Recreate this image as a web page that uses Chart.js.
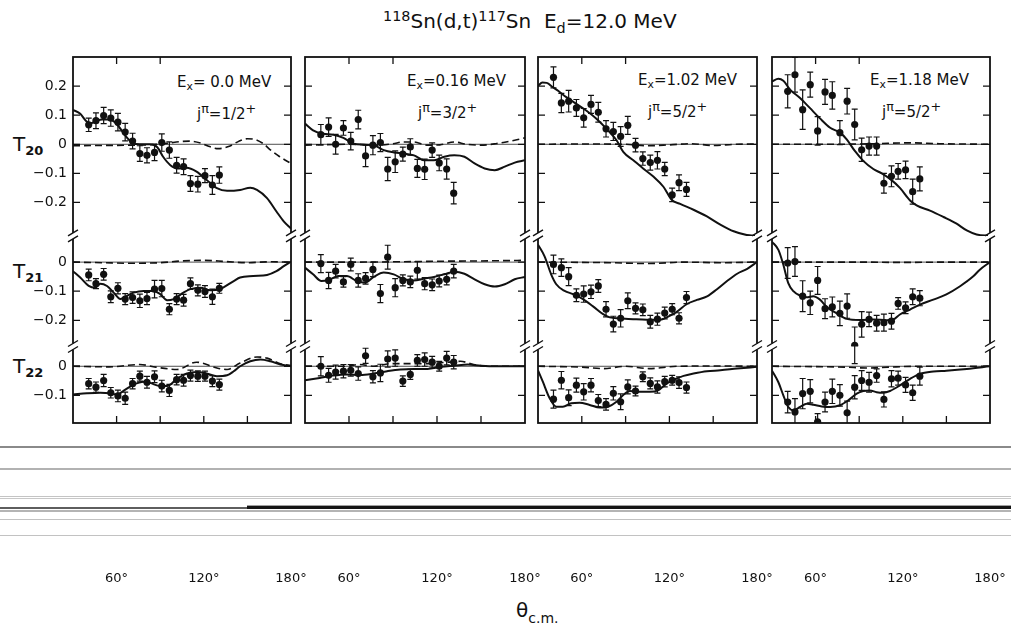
<!DOCTYPE html>
<html><head><meta charset="utf-8">
<script src="https://cdn.jsdelivr.net/npm/chart.js"></script>
<style>
html,body{margin:0;padding:0;background:#fff;}
body{width:1011px;height:627px;position:relative;overflow:hidden;font-family:"DejaVu Sans",sans-serif;color:#111;}
.t{position:absolute;white-space:nowrap;}
.t sub,.t sup{font-size:0.72em;line-height:0;}
.t sub{vertical-align:-0.32em;}
.t sup{vertical-align:0.5em;}
.ann{font-size:15px;line-height:15px;}
.ann sup{font-size:0.85em;}
.tl{font-size:20px;line-height:20px;}
.tl sub{font-size:13px;font-weight:bold;vertical-align:-4px;}
.scan{position:absolute;left:0;width:1011px;}
canvas{position:absolute;}
</style></head>
<body>
<div class="t" style="left:383px;top:10px;font-size:20px;line-height:22px;"><sup>118</sup>Sn(d,t)<sup>117</sup>Sn&nbsp;&nbsp;E<sub>d</sub>=12.0 MeV</div>

<div class="t tl" style="left:13px;top:134px;">T<sub>20</sub></div>
<div class="t tl" style="left:13px;top:261px;">T<sub>21</sub></div>
<div class="t tl" style="left:13px;top:356px;">T<sub>22</sub></div>

<div class="t ann" style="left:177px;top:75px;">E<sub>x</sub>= 0.0 MeV</div>
<div class="t ann" style="left:197px;top:107px;">j<sup>π</sup>=1/2<sup>+</sup></div>
<div class="t ann" style="left:407px;top:74px;">E<sub>x</sub>=0.16 MeV</div>
<div class="t ann" style="left:418px;top:106px;">j<sup>π</sup>=3/2<sup>+</sup></div>
<div class="t ann" style="left:638px;top:73px;">E<sub>x</sub>=1.02 MeV</div>
<div class="t ann" style="left:648px;top:105px;">j<sup>π</sup>=5/2<sup>+</sup></div>
<div class="t ann" style="left:870px;top:73px;">E<sub>x</sub>=1.18 MeV</div>
<div class="t ann" style="left:882px;top:105px;">j<sup>π</sup>=5/2<sup>+</sup></div>

<div class="t" style="left:516px;top:600px;font-size:20px;line-height:20px;">θ<sub style="font-size:14px;vertical-align:-6px;">c.m.</sub></div>

<div class="scan" style="top:446px;height:2px;background:#8a8a8a;"></div>
<div class="scan" style="top:468px;height:2px;background:#b2b2b2;"></div>
<div class="scan" style="top:496px;height:1px;background:#c4c4c4;"></div>
<div class="scan" style="top:498px;height:1px;background:#c8c8c8;"></div>
<div class="scan" style="top:507px;height:2px;width:247px;background:#5e5e5e;"></div>
<div class="scan" style="top:505px;left:247px;height:1px;width:764px;background:#a0a0a0;"></div>
<div class="scan" style="top:506px;left:247px;height:3px;width:764px;background:#141414;"></div>
<div class="scan" style="top:510px;height:2px;background:#b4b4b4;"></div>
<div class="scan" style="top:519px;height:1px;background:#c2c2c2;"></div>
<div class="scan" style="top:535px;height:1px;background:#c2c2c2;"></div>

<script>
// ---------------- data ----------------
// tick labels / tick marks
const xLabelVals = [60, 120, 180];
const xBottomTickVals = [60, 90, 120, 150];
const xTopTickVals = [60, 90];
const yTickVals20 = [0.2, 0.1, 0, -0.1, -0.2];
const yTickVals21 = [0, -0.1, -0.2];
const yTickVals22 = [0, -0.1];

// Column 1: Ex = 0.0 MeV
const c1_angles = [40.8, 45.8, 51.1, 56.0, 60.9, 65.9, 71.0, 76.0, 80.9, 86.1, 91.1, 96.3, 101.3, 106.1, 110.8, 115.9, 120.8, 125.9, 130.7];
const c1_T20 = [0.067, 0.081, 0.099, 0.090, 0.076, 0.042, 0.011, -0.032, -0.038, -0.028, 0.006, -0.020, -0.072, -0.077, -0.135, -0.137, -0.108, -0.140, -0.106];
const c1_T20_err = [0.023, 0.027, 0.028, 0.028, 0.030, 0.030, 0.027, 0.027, 0.026, 0.028, 0.030, 0.028, 0.027, 0.027, 0.027, 0.027, 0.024, 0.032, 0.028];
const c1_T21 = [-0.044, -0.074, -0.042, -0.119, -0.090, -0.127, -0.122, -0.133, -0.125, -0.093, -0.091, -0.162, -0.127, -0.131, -0.074, -0.097, -0.101, -0.119, -0.090];
const c1_T21_err = [0.020, 0.017, 0.020, 0.020, 0.019, 0.019, 0.020, 0.023, 0.021, 0.030, 0.028, 0.019, 0.019, 0.020, 0.020, 0.019, 0.020, 0.026, 0.017];
const c1_T22 = [-0.060, -0.072, -0.049, -0.091, -0.102, -0.110, -0.060, -0.034, -0.055, -0.036, -0.068, -0.083, -0.046, -0.048, -0.032, -0.034, -0.034, -0.051, -0.063];
const c1_T22_err = [0.018, 0.018, 0.021, 0.018, 0.020, 0.021, 0.018, 0.017, 0.020, 0.020, 0.020, 0.021, 0.018, 0.020, 0.019, 0.018, 0.017, 0.019, 0.019];
const c1_T20_fit = [[30,0.118],[35,0.105],[39,0.08],[42,0.072],[46,0.08],[50,0.085],[55,0.085],[60,0.07],[66,0.03],[70.6,0.006],[76,0],[83,0],[88,-0.01],[92,-0.043],[97,-0.072],[101.6,-0.083],[108,-0.081],[115,-0.094],[122,-0.123],[129,-0.151],[136,-0.16],[145,-0.157],[152,-0.149],[156.6,-0.157],[163.5,-0.185],[170,-0.231],[175,-0.265],[180,-0.29]];
const c1_T20_dash = [[30,-0.005],[50,-0.004],[70,-0.003],[85,-0.001],[95,0.003],[103,0.009],[110,0.011],[118,0.004],[124,-0.008],[130,-0.015],[137,-0.008],[144,0.01],[150,0.019],[155,0.017],[161,0.002],[166,-0.02],[172,-0.042],[180,-0.066]];
const c1_T21_fit = [[30,-0.031],[35,-0.053],[40.8,-0.082],[45.4,-0.088],[48.8,-0.074],[53.4,-0.082],[58,-0.105],[62.6,-0.127],[67.2,-0.116],[71.7,-0.105],[78.6,-0.099],[85.5,-0.099],[90,-0.11],[94.7,-0.131],[99.3,-0.127],[106,-0.105],[110.7,-0.093],[117.6,-0.088],[124.5,-0.097],[131,-0.093],[140.6,-0.065],[145,-0.053],[154,-0.048],[163.5,-0.044],[170,-0.031],[175,-0.014],[180,0.002]];
const c1_T21_dash = [[30,0],[50,-0.002],[70,-0.004],[90,-0.002],[105,0.004],[120,0.006],[135,0.002],[150,-0.002],[165,0.001],[180,0]];
const c1_T22_fit = [[30,-0.097],[39.6,-0.093],[48.8,-0.091],[55.7,-0.093],[60.3,-0.097],[66,-0.08],[71.7,-0.063],[78.6,-0.053],[83,-0.057],[90,-0.068],[94.7,-0.068],[101.6,-0.043],[108.4,-0.025],[115.3,-0.02],[122,-0.025],[129,-0.034],[136,-0.031],[140.6,-0.017],[145,0],[152,0.017],[159,0.023],[165.8,0.017],[172.7,0.006],[180,0]];
const c1_T22_dash = [[30,0],[55,-0.002],[76,0.006],[87,-0.003],[101.6,-0.011],[115,0.014],[129,-0.006],[136,-0.011],[145,0.011],[156.6,0.032],[163.5,0.028],[172.7,0.009],[180,0.002]];

// Column 2: Ex = 0.16 MeV
const c2_angles = [40.8, 46.1, 50.9, 56.2, 61.2, 66.3, 71.3, 76.3, 81.4, 86.4, 91.5, 96.7, 101.8, 106.6, 111.6, 116.7, 121.5, 126.6, 131.4];
const c2_T20 = [0.033, 0.059, 0.000, 0.056, 0.011, 0.085, -0.040, -0.003, 0.006, -0.085, -0.060, -0.034, -0.009, -0.083, -0.086, -0.020, -0.064, -0.085, -0.168];
const c2_T20_err = [0.035, 0.032, 0.034, 0.025, 0.030, 0.032, 0.037, 0.033, 0.031, 0.040, 0.037, 0.024, 0.028, 0.031, 0.035, 0.025, 0.027, 0.035, 0.037];
const c2_T21 = [-0.005, -0.063, -0.031, -0.068, -0.008, -0.063, -0.056, -0.025, -0.108, 0.017, -0.088, -0.063, -0.068, -0.028, -0.074, -0.078, -0.065, -0.059, -0.031];
const c2_T21_err = [0.031, 0.028, 0.023, 0.018, 0.022, 0.023, 0.020, 0.025, 0.031, 0.041, 0.031, 0.019, 0.020, 0.030, 0.021, 0.020, 0.020, 0.019, 0.023];
const c2_T22 = [0.000, -0.031, -0.020, -0.017, -0.014, -0.025, 0.036, -0.036, -0.023, 0.025, 0.028, -0.051, -0.028, 0.020, 0.023, 0.014, 0.000, 0.028, 0.014];
const c2_T22_err = [0.033, 0.024, 0.024, 0.023, 0.020, 0.023, 0.026, 0.021, 0.030, 0.028, 0.028, 0.018, 0.017, 0.020, 0.023, 0.020, 0.017, 0.023, 0.023];
const c2_T20_fit = [[30,0.071],[35.5,0.048],[42.4,0.036],[49.3,0.033],[56.2,0.022],[63,0.002],[70,-0.001],[76.8,-0.003],[83.7,-0.02],[90.6,-0.028],[97.5,-0.032],[104.3,-0.038],[111.2,-0.055],[118,-0.055],[125,-0.043],[131.8,-0.038],[138.7,-0.043],[145.6,-0.066],[152.5,-0.083],[159.4,-0.089],[166.2,-0.077],[173,-0.063],[180,-0.055]];
const c2_T20_dash = [[30,-0.003],[60,0],[80,-0.003],[90,0.002],[97,0.008],[104,0.008],[113,-0.003],[122,-0.002],[131.8,0.008],[140,0],[150,-0.003],[160,0.002],[173,0.014],[180,0.022]];
const c2_T21_fit = [[30,-0.019],[35.5,-0.042],[41.2,-0.065],[47,-0.059],[52.7,-0.048],[58.5,-0.048],[65.3,-0.065],[71,-0.071],[76.8,-0.051],[83.7,-0.036],[90.5,-0.042],[97.5,-0.059],[104.3,-0.063],[111,-0.057],[118,-0.051],[125,-0.042],[131.8,-0.033],[138.7,-0.04],[145.6,-0.059],[152.5,-0.076],[159.4,-0.084],[166.2,-0.076],[173,-0.059],[180,-0.051]];
const c2_T21_dash = [[30,0],[60,0],[90,0.001],[120,0.003],[150,0.004],[180,0.006]];
const c2_T22_fit = [[30,-0.048],[40,-0.04],[49,-0.032],[58.5,-0.028],[67.7,-0.03],[76.8,-0.025],[86,-0.017],[95,-0.011],[104.3,-0.009],[113.5,-0.009],[122.7,-0.002],[131.8,0.002],[141,0.006],[150,0.002],[160,0],[180,0]];
const c2_T22_dash = [[30,0],[58,0],[67,0.006],[77,0],[88,0.009],[100,0.009],[113,0.009],[127,0.014],[136,0.017],[145,0.006],[155,0],[180,0]];

// Column 3: Ex = 1.02 MeV
const c3_angles = [40.6, 46.0, 51.0, 56.3, 61.3, 66.3, 71.3, 76.6, 81.6, 86.6, 91.5, 96.8, 101.8, 106.9, 111.8, 116.8, 121.9, 126.6, 131.7];
const c3_T20 = [0.230, 0.142, 0.148, 0.125, 0.091, 0.137, 0.110, 0.053, 0.044, 0.027, 0.065, -0.003, -0.049, -0.063, -0.055, -0.085, -0.174, -0.132, -0.155];
const c3_T20_err = [0.036, 0.033, 0.037, 0.029, 0.032, 0.031, 0.034, 0.028, 0.031, 0.034, 0.031, 0.023, 0.023, 0.026, 0.030, 0.023, 0.023, 0.027, 0.024];
const c3_T21 = [-0.008, -0.019, -0.050, -0.114, -0.110, -0.102, -0.082, -0.162, -0.213, -0.193, -0.133, -0.159, -0.164, -0.205, -0.196, -0.175, -0.162, -0.193, -0.122];
const c3_T21_err = [0.032, 0.030, 0.031, 0.022, 0.028, 0.023, 0.022, 0.026, 0.027, 0.030, 0.027, 0.019, 0.020, 0.022, 0.021, 0.020, 0.019, 0.019, 0.021];
const c3_T22 = [-0.113, -0.048, -0.108, -0.065, -0.088, -0.065, -0.118, -0.131, -0.093, -0.122, -0.071, -0.085, -0.036, -0.059, -0.071, -0.053, -0.048, -0.056, -0.073];
const c3_T22_err = [0.031, 0.030, 0.027, 0.024, 0.028, 0.023, 0.021, 0.020, 0.023, 0.027, 0.024, 0.017, 0.017, 0.019, 0.021, 0.018, 0.017, 0.020, 0.019];
const c3_T20_fit = [[30,0.201],[33,0.212],[36,0.211],[40,0.197],[44,0.183],[49.4,0.162],[56.3,0.139],[63,0.116],[70,0.088],[77,0.053],[83.8,0.014],[88.4,-0.026],[95.3,-0.055],[102,-0.083],[109,-0.111],[115.9,-0.146],[121.6,-0.191],[127.4,-0.205],[136.5,-0.225],[145.7,-0.248],[154.9,-0.276],[164,-0.299],[173,-0.312],[180,-0.315]];
const c3_T20_dash = [[30,0],[60,0.001],[90,0],[105,-0.005],[120,-0.002],[135,0.002],[150,-0.004],[165,0],[180,0.001]];
const c3_T21_fit = [[30,0.06],[34.5,0.02],[39,-0.042],[42.5,-0.076],[48.2,-0.099],[54,-0.11],[60.8,-0.127],[67.7,-0.152],[74.6,-0.179],[79.2,-0.19],[86,-0.193],[95.2,-0.196],[104.4,-0.198],[113.6,-0.198],[120.5,-0.184],[125,-0.171],[132,-0.144],[138.8,-0.13],[145.8,-0.118],[152.6,-0.093],[159.5,-0.065],[166.4,-0.04],[173.3,-0.023],[180,0]];
const c3_T21_dash = [[30,0],[80,-0.002],[105,-0.005],[130,0],[155,-0.002],[180,0]];
const c3_T22_fit = [[30,-0.014],[33.3,-0.053],[38,-0.11],[42.5,-0.139],[47,-0.139],[52.8,-0.127],[58.5,-0.125],[65.4,-0.133],[72.3,-0.142],[78,-0.139],[83.8,-0.122],[88.4,-0.099],[93,-0.085],[99.8,-0.088],[106.7,-0.088],[112.5,-0.082],[118.2,-0.059],[125,-0.042],[129.7,-0.033],[136.5,-0.025],[145.7,-0.017],[154.9,-0.014],[166.4,-0.008],[180,-0.002]];
const c3_T22_dash = [[30,0],[60,-0.003],[75,-0.008],[90,0],[106,-0.008],[125,0],[150,0.001],[180,0]];

// Column 4: Ex = 1.18 MeV
const c4_angles = [40.8, 45.8, 51.1, 56.3, 61.4, 66.5, 71.5, 76.7, 81.7, 86.9, 91.7, 96.8, 102.0, 107.0, 112.2, 116.8, 121.9, 126.8, 131.7];
const c4_T20 = [0.182, 0.239, 0.119, 0.205, 0.046, 0.180, 0.168, 0.040, 0.148, 0.068, -0.019, -0.006, -0.006, -0.134, -0.110, -0.093, -0.088, -0.163, -0.119];
const c4_T20_err = [0.057, 0.060, 0.068, 0.043, 0.049, 0.043, 0.047, 0.041, 0.044, 0.053, 0.040, 0.031, 0.031, 0.034, 0.036, 0.027, 0.030, 0.043, 0.041];
const c4_T21 = [-0.003, 0.002, -0.117, -0.140, -0.063, -0.160, -0.154, -0.176, -0.151, -0.286, -0.214, -0.197, -0.210, -0.208, -0.203, -0.142, -0.157, -0.119, -0.124];
const c4_T21_err = [0.053, 0.051, 0.053, 0.040, 0.048, 0.034, 0.034, 0.042, 0.042, 0.063, 0.044, 0.025, 0.027, 0.029, 0.027, 0.020, 0.020, 0.027, 0.026];
const c4_T22 = [-0.123, -0.157, -0.094, -0.086, -0.191, -0.123, -0.086, -0.100, -0.160, -0.072, -0.049, -0.055, -0.032, -0.114, -0.043, -0.041, -0.064, -0.091, -0.034];
const c4_T22_err = [0.037, 0.046, 0.052, 0.040, 0.028, 0.034, 0.042, 0.037, 0.040, 0.040, 0.034, 0.034, 0.023, 0.026, 0.028, 0.024, 0.026, 0.026, 0.031];
const c4_T20_fit = [[30,0.216],[34.4,0.225],[37.8,0.218],[42.4,0.188],[49.3,0.159],[56,0.125],[63,0.089],[70,0.057],[76.8,0.04],[81.4,0.017],[87,-0.023],[92.8,-0.057],[99.7,-0.085],[105.5,-0.1],[111.2,-0.119],[118,-0.15],[125,-0.193],[129.5,-0.21],[138.7,-0.228],[148,-0.25],[157,-0.273],[164,-0.296],[170.8,-0.31],[180,-0.315]];
const c4_T20_dash = [[30,0],[70,0],[100,0.002],[125,0.005],[145,0.002],[180,0]];
const c4_T21_fit = [[30,0.07],[34.4,0.042],[37.8,-0.009],[41.2,-0.072],[44.7,-0.1],[49.3,-0.115],[53.9,-0.121],[58.4,-0.117],[63,-0.129],[67.6,-0.154],[74.5,-0.176],[81.4,-0.195],[90.6,-0.199],[99.7,-0.197],[108.9,-0.2],[113.5,-0.197],[118,-0.18],[125,-0.163],[131.8,-0.146],[141,-0.129],[150,-0.111],[159.4,-0.083],[168.5,-0.049],[173,-0.026],[180,0]];
const c4_T21_dash = [[30,0],[90,0],[120,-0.001],[150,0],[180,0]];
const c4_T22_fit = [[30,-0.015],[34.4,-0.055],[37.8,-0.1],[41.2,-0.14],[44.7,-0.151],[49.3,-0.14],[53.9,-0.129],[58.4,-0.132],[64.2,-0.138],[70,-0.14],[76.8,-0.134],[82.5,-0.117],[88.3,-0.094],[92.8,-0.085],[97.4,-0.083],[102,-0.089],[106.6,-0.091],[111.2,-0.085],[118,-0.066],[125,-0.043],[131.8,-0.026],[141,-0.018],[150,-0.015],[164,-0.009],[180,0]];
const c4_T22_dash = [[30,0],[80,-0.003],[95,-0.006],[110,-0.003],[130,0],[180,0]];

// ---------------- tables built from the arrays ----------------
const columns = [
  {angles: c1_angles, bands: [[c1_T20, c1_T20_err, c1_T20_fit, c1_T20_dash], [c1_T21, c1_T21_err, c1_T21_fit, c1_T21_dash], [c1_T22, c1_T22_err, c1_T22_fit, c1_T22_dash]]},
  {angles: c2_angles, bands: [[c2_T20, c2_T20_err, c2_T20_fit, c2_T20_dash], [c2_T21, c2_T21_err, c2_T21_fit, c2_T21_dash], [c2_T22, c2_T22_err, c2_T22_fit, c2_T22_dash]]},
  {angles: c3_angles, bands: [[c3_T20, c3_T20_err, c3_T20_fit, c3_T20_dash], [c3_T21, c3_T21_err, c3_T21_fit, c3_T21_dash], [c3_T22, c3_T22_err, c3_T22_fit, c3_T22_dash]]},
  {angles: c4_angles, bands: [[c4_T20, c4_T20_err, c4_T20_fit, c4_T20_dash], [c4_T21, c4_T21_err, c4_T21_fit, c4_T21_dash], [c4_T22, c4_T22_err, c4_T22_fit, c4_T22_dash]]}
];

// ---------------- layout / style ----------------
const bandIds = ['y20', 'y21', 'y22'];
const bandMin = [-0.315, -0.29, -0.195];
const bandMax = [0.30, 0.09, 0.068];
const bandTicks = [yTickVals20, yTickVals21, yTickVals22];
const colLefts = [73, 305, 538, 772];
const colRights = [291, 525, 757, 990];
const CANVAS_TOP = 40, PAD_TOP = 17, CANVAS_H = 553, X_AXIS_H = 170;
const INK = '#111';

Chart.defaults.font.family = '"DejaVu Sans", sans-serif';
Chart.defaults.color = INK;

const fmtY = v => v === 0 ? '0' : (v < 0 ? '\u2212' : '') + Math.abs(v).toFixed(1);

const framePlugin = {
  id: 'frame',
  beforeDatasetsDraw(chart) {
    const {ctx, chartArea: a} = chart;
    ctx.save();
    ctx.strokeStyle = '#222';
    ctx.lineWidth = 0.8;
    bandIds.forEach(id => {
      const y = chart.scales[id].getPixelForValue(0);
      ctx.beginPath(); ctx.moveTo(a.left, y); ctx.lineTo(a.right, y); ctx.stroke();
    });
    ctx.restore();
  },
  afterDatasetsDraw(chart) {
    const {ctx, chartArea: a} = chart;
    ctx.save();
    ctx.beginPath(); ctx.rect(a.left, a.top, a.width, a.height); ctx.clip();
    ctx.strokeStyle = INK; ctx.lineWidth = 1.2;
    chart.data.datasets.forEach((ds, i) => {
      if (!ds.errorBars) return;
      const meta = chart.getDatasetMeta(i);
      const ys = chart.scales[ds.yAxisID];
      meta.data.forEach((el, k) => {
        const v = ds.data[k].y, e = ds.errorBars[k];
        const y1 = ys.getPixelForValue(v + e), y2 = ys.getPixelForValue(v - e);
        ctx.beginPath();
        ctx.moveTo(el.x, y1); ctx.lineTo(el.x, y2);
        ctx.moveTo(el.x - 3, y1); ctx.lineTo(el.x + 3, y1);
        ctx.moveTo(el.x - 3, y2); ctx.lineTo(el.x + 3, y2);
        ctx.stroke();
      });
    });
    ctx.restore();
  },
  afterDraw(chart) {
    const {ctx, chartArea: a} = chart;
    const xs = chart.scales.x;
    ctx.save();
    ctx.strokeStyle = INK;
    ctx.lineWidth = 1.8;
    ctx.strokeRect(a.left, a.top, a.right - a.left, a.bottom - a.top);
    ctx.lineWidth = 1.3;
    ctx.beginPath();
    bandIds.forEach((id, b) => {
      const s = chart.scales[id];
      bandTicks[b].forEach(v => {
        const y = s.getPixelForValue(v);
        ctx.moveTo(a.left, y); ctx.lineTo(a.left + 7, y);
        ctx.moveTo(a.right, y); ctx.lineTo(a.right - 7, y);
      });
    });
    xBottomTickVals.forEach(v => { const x = xs.getPixelForValue(v); ctx.moveTo(x, a.bottom); ctx.lineTo(x, a.bottom - 7); });
    xTopTickVals.forEach(v => { const x = xs.getPixelForValue(v); ctx.moveTo(x, a.top); ctx.lineTo(x, a.top + 7); });
    ctx.stroke();
    // axis breaks between the three bands
    [chart.scales.y20.bottom, chart.scales.y21.bottom].forEach(yb => {
      [a.left, a.right].forEach(x => {
        ctx.fillStyle = '#fff';
        ctx.fillRect(x - 2, yb - 3, 4, 6);
        ctx.beginPath();
        [-3, 3].forEach(d => { ctx.moveTo(x - 5, yb + d + 3); ctx.lineTo(x + 5, yb + d - 3); });
        ctx.lineWidth = 1.4; ctx.stroke();
      });
    });
    ctx.restore();
  }
};

columns.forEach((col, i) => {
  const axisW = i === 0 ? 73 : 0;
  const padL = i === 0 ? 0 : 24, padR = 24;
  const boxW = colRights[i] - colLefts[i];
  const W = axisW + padL + boxW + padR;
  const canvas = document.createElement('canvas');
  canvas.width = W; canvas.height = CANVAS_H;
  canvas.style.left = (colLefts[i] - axisW - padL) + 'px';
  canvas.style.top = CANVAS_TOP + 'px';
  canvas.style.width = W + 'px'; canvas.style.height = CANVAS_H + 'px';
  document.body.appendChild(canvas);

  const datasets = [];
  col.bands.forEach(([vals, errs, fit, dash], b) => {
    const yAxisID = bandIds[b];
    datasets.push({
      data: col.angles.map((a, k) => ({x: a, y: vals[k]})), errorBars: errs, yAxisID,
      pointRadius: 3.6, pointBackgroundColor: INK, pointBorderWidth: 0, showLine: false
    });
    datasets.push({
      data: fit.map(p => ({x: p[0], y: p[1]})), yAxisID, showLine: true, pointRadius: 0,
      borderColor: INK, borderWidth: 2, cubicInterpolationMode: 'monotone', fill: false
    });
    datasets.push({
      data: dash.map(p => ({x: p[0], y: p[1]})), yAxisID, showLine: true, pointRadius: 0,
      borderColor: INK, borderWidth: 1.6, borderDash: [7, 4], cubicInterpolationMode: 'monotone', fill: false
    });
  });

  const scales = {
    x: {
      type: 'linear', position: 'bottom', min: 30, max: 180,
      grid: {display: false, drawTicks: true, tickLength: 145}, border: {display: false},
      afterBuildTicks: s => { s.ticks = xLabelVals.map(v => ({value: v})); },
      ticks: {padding: 3, autoSkip: false, maxRotation: 0, font: {size: 13}, color: INK, callback: v => v + '\u00b0'},
      afterFit: s => { s.height = X_AXIS_H; }
    }
  };
  bandIds.forEach((id, b) => {
    scales[id] = {
      type: 'linear', position: 'left', stack: 'col', stackWeight: bandMax[b] - bandMin[b], weight: 3 - b,
      min: bandMin[b], max: bandMax[b],
      grid: {display: false, drawTicks: true, tickLength: 6}, border: {display: false},
      afterBuildTicks: s => { s.ticks = bandTicks[b].map(v => ({value: v})); },
      ticks: {display: i === 0, padding: 0, font: {size: 14}, color: INK, callback: fmtY},
      afterFit: s => { s.width = axisW; }
    };
  });

  new Chart(canvas, {
    type: 'scatter',
    data: {datasets},
    options: {
      responsive: false, animation: false, devicePixelRatio: 1,
      layout: {padding: {left: padL, right: padR, top: PAD_TOP, bottom: 0}},
      plugins: {legend: {display: false}, tooltip: {enabled: false}},
      scales
    },
    plugins: [framePlugin]
  });
});
</script>
</body></html>
